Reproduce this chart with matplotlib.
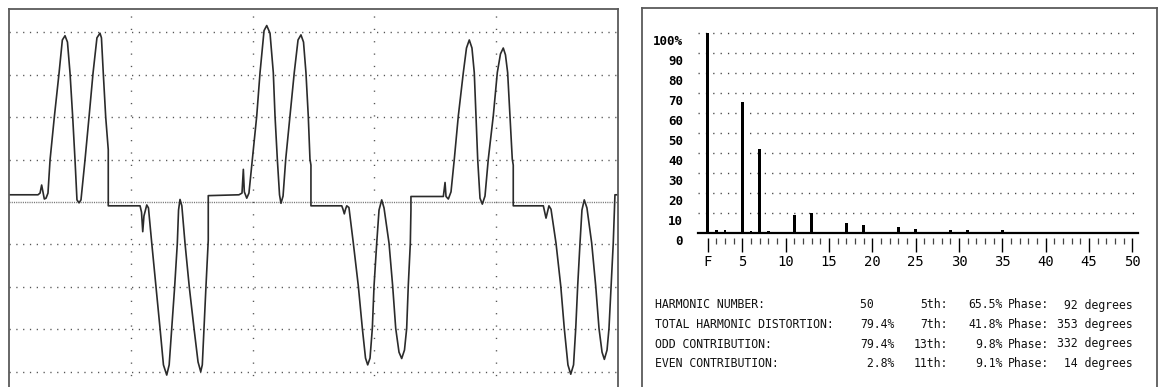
import matplotlib
matplotlib.use('Agg')
from matplotlib import pyplot as plt
from matplotlib import transforms

plt.rcParams['font.family'] = 'DejaVu Sans Mono'
plt.rcParams['lines.scale_dashes'] = False

# scope trace: time (ms, 10 ms/div) and amplitude (div)
wave_t = [0, 2.38, 2.55, 2.68, 2.79, 2.90, 3.04, 3.20, 3.37, 3.72, 4.11, 4.38, 4.60, 4.80,
          5.01, 5.23, 5.42, 5.58, 5.75, 5.91, 6.24, 6.57, 6.90, 7.22, 7.47, 7.59, 7.74, 7.94,
          8.15, 8.15, 10.76, 10.88, 10.98, 11.08, 11.31, 11.45, 11.72, 12.07, 12.40, 12.68,
          12.95, 13.15, 13.36, 13.60, 13.82, 13.92, 14.04, 14.19, 14.45, 14.80, 15.19, 15.52,
          15.74, 15.87, 16.01, 16.17, 16.36, 16.36, 18.88,
          19.13, 19.24, 19.32, 19.52, 19.70, 19.98, 20.34, 20.61, 20.94, 21.16, 21.43, 21.70,
          21.84, 22.03, 22.21, 22.33, 22.50, 22.72, 23.07, 23.42, 23.73, 23.97, 24.18, 24.38,
          24.57, 24.71, 24.79, 24.79, 27.32, 27.42, 27.53, 27.63, 27.73, 27.91, 28.27, 28.68,
          29.01, 29.27, 29.45, 29.64, 29.83, 29.97, 30.19, 30.38, 30.60, 30.79, 31.20, 31.50,
          31.75, 32.02, 32.24, 32.47, 32.65, 32.78, 32.95, 33.00, 33.00, 35.66,
          35.80, 35.88, 36.07, 36.29, 36.56, 36.89, 37.30, 37.56, 37.79, 38.01, 38.20, 38.34,
          38.48, 38.67, 38.86, 39.08, 39.35, 39.76, 40.09, 40.35, 40.58, 40.76, 40.94, 41.13,
          41.32, 41.40, 41.40, 43.87, 44.09, 44.33, 44.50, 44.91, 45.30, 45.59, 45.89, 46.12,
          46.35, 46.53, 46.69, 46.88, 47.04, 47.23, 47.45, 47.84, 48.17, 48.44, 48.69, 48.88,
          49.10, 49.26, 49.43, 49.61, 49.75, 50.00]
wave_y = [0.17, 0.17, 0.21, 0.40, 0.24, 0.07, 0.09, 0.21, 0.99, 2.00, 3.04, 3.82, 3.92, 3.77,
          3.04, 2.00, 0.99, 0.05, -0.02, 0.05, 0.99, 2.00, 3.04, 3.87, 3.98, 3.87, 3.04, 2.00,
          1.23, -0.09, -0.09, -0.24, -0.70, -0.33, -0.07, -0.14, -0.97, -2.00, -2.98, -3.84,
          -4.08, -3.84, -2.98, -2.00, -0.97, -0.19, 0.06, -0.09, -0.97, -2.00, -2.98, -3.77,
          -4.00, -3.84, -2.98, -2.00, -0.90, 0.15, 0.17,
          0.21, 0.77, 0.24, 0.09, 0.21, 1.01, 2.03, 3.05, 4.04, 4.16, 3.98, 3.05,
          2.03, 1.01, 0.17, -0.03, 0.14, 1.01, 2.03, 3.05, 3.82, 3.94, 3.77, 3.05,
          2.03, 1.01, 0.87, -0.09, -0.09, -0.17, -0.28, -0.17, -0.09, -0.13, -0.97, -1.98,
          -2.98, -3.68, -3.84, -3.68, -2.98, -1.98, -0.97, -0.19, 0.05, -0.14, -0.97, -1.98,
          -2.98, -3.54, -3.69, -3.49, -2.98, -1.98, -0.97, -0.19, 0.13, 0.13,
          0.46, 0.13, 0.07, 0.24, 1.01, 2.03, 3.05, 3.63, 3.82, 3.63, 3.05, 2.03,
          1.01, 0.09, -0.05, 0.14, 1.01, 2.03, 3.05, 3.49, 3.63, 3.47, 3.05, 2.03,
          1.01, 0.87, -0.09, -0.09, -0.38, -0.09, -0.17, -0.97, -1.98, -2.98, -3.84, -4.06,
          -3.84, -2.98, -1.98, -0.97, -0.19, 0.05, -0.14, -0.97, -1.98, -2.98, -3.54, -3.71,
          -3.49, -2.98, -1.98, -0.97, 0.17, 0.17]

# harmonic spectrum, percent of fundamental
harmonic_num = list(range(1, 51))
harmonic_pct = [100, 1.7, 1.7, 0, 65.5, 1.0, 41.8, 0.8, 0, 0,
                9.1, 0, 9.8, 0, 0, 0, 5.2, 0, 3.9, 0,
                0, 0, 3.0, 0, 2.2, 0, 0, 0, 1.4, 0,
                1.3, 0, 0, 0, 1.3, 0, 0.7, 0, 0, 0,
                0.7, 0, 0.7, 0, 0, 0, 0.7, 0, 0.7, 0]
major_ticks = [1, 5, 10, 15, 20, 25, 30, 35, 40, 45, 50]
major_labels = ['F', '5', '10', '15', '20', '25', '30', '35', '40', '45', '50']
pct_ticks = [0, 10, 20, 30, 40, 50, 60, 70, 80, 90, 100]

stat_names = ['HARMONIC NUMBER:', 'TOTAL HARMONIC DISTORTION:', 'ODD CONTRIBUTION:', 'EVEN CONTRIBUTION:']
stat_values = ['50', '79.4%', '79.4%', '2.8%']
top_orders = ['5th:', '7th:', '13th:', '11th:']
top_pct = ['65.5%', '41.8%', '9.8%', '9.1%']
top_phase = [92, 353, 332, 14]

W, H = 1161, 387
fig = plt.figure(figsize=(W / 100, H / 100), dpi=100)
frame_col = '#5a5a5a'

# ---- left: waveform
ax = fig.add_axes([9 / W, -8 / H, 609 / W, 386 / H])
ax.plot(wave_t, wave_y, color='#2b2b2b', linewidth=1.2)
ax.set_xlim(0, 50)
ax.set_ylim(-4.55, 4.55)
ax.set_xticks([10, 20, 30, 40])
ax.set_yticks([-4, -3, -2, -1, 1, 2, 3, 4])
ax.tick_params(length=0, labelbottom=False, labelleft=False)
ax.xaxis.grid(True, color='#555555', linestyle=(0, (0.9, 8.0)), linewidth=1.0)
ax.yaxis.grid(True, color='#555555', linestyle=(0, (0.9, 4.0)), linewidth=1.0)
ax.axhline(0, color='#777777', linestyle=(0, (0.8, 0.8)), linewidth=1.0, zorder=1)
ax.set_axisbelow(True)
for s in ax.spines.values():
    s.set_color(frame_col)
    s.set_linewidth(1.3)

# ---- right: spectrum frame
frame = fig.add_axes([642 / W, -0.05, 515 / W, (H - 8) / H + 0.05])
frame.set_xticks([])
frame.set_yticks([])
for s in frame.spines.values():
    s.set_color(frame_col)
    s.set_linewidth(1.3)

bx = fig.add_axes([698 / W, (H - 233) / H, 440 / W, 210 / H])
bx.patch.set_alpha(0)
bx.bar(harmonic_num, harmonic_pct, width=0.32, color='black')
bx.set_xlim(-0.12, 50.66)
bx.set_ylim(0, 105)
bx.axhline(0, color='black', linewidth=1.6, clip_on=False)
bx.set_yticks(pct_ticks[1:])
bx.tick_params(axis='y', length=0, labelleft=False)
bx.yaxis.grid(True, color='#444444', linestyle=(0, (0.9, 4.4)), linewidth=1.0)
bx.set_xticks(major_ticks)
bx.set_xticklabels(major_labels, fontweight='bold', fontsize=9.5)
bx.set_xticks([h for h in harmonic_num if h not in major_ticks], minor=True)
bx.tick_params(axis='x', which='major', length=10.4, width=1.0, color='black', pad=2.4)
bx.tick_params(axis='x', which='minor', length=4.3, width=0.9, color='#444444')
for name, s in bx.spines.items():
    s.set_color('none')
bx.spines['bottom'].set_position(('outward', 3.3))
bx.set_axisbelow(True)

lab_tr = transforms.blended_transform_factory(bx.transAxes, bx.transData) + \
    transforms.ScaledTranslation(-0.15, -0.085, fig.dpi_scale_trans)
for v in pct_ticks:
    bx.text(0, v, '100%' if v == 100 else str(v), transform=lab_tr, ha='right', va='center',
            fontsize=9, fontweight='bold')

# ---- summary text
rows_y = [305, 324.5, 344, 363.5]
txt = dict(fontsize=8.3, color='#111111', va='center')
for i, yy in enumerate(rows_y):
    fy = 1 - yy / H
    val = stat_values[i]
    val = val.rjust(5) if val.endswith('%') else val.ljust(5)
    fig.text(655 / W, fy, stat_names[i], ha='left', **txt)
    fig.text(860 / W, fy, val, ha='left', **txt)
    fig.text(948 / W, fy, top_orders[i], ha='right', **txt)
    fig.text(1003 / W, fy, top_pct[i], ha='right', **txt)
    fig.text(1008 / W, fy, 'Phase:', ha='left', **txt)
    fig.text(1133 / W, fy, f'{top_phase[i]:>3} degrees', ha='right', **txt)

fig.savefig('out.png', dpi=100)
